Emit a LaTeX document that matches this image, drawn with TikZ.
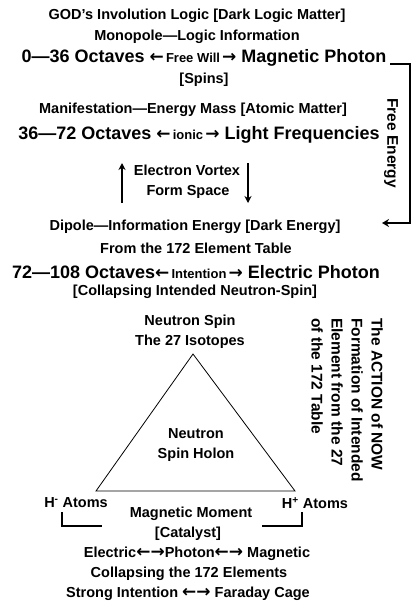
\documentclass[tikz,border=0pt]{standalone}
\usepackage{fontspec}
\setmainfont{Liberation Sans}
\newfontfamily\arrowfont{DejaVu Sans}
\usetikzlibrary{arrows.meta}
\newcommand{\lft}{{\arrowfont\bfseries\fontsize{17}{17}\selectfont ←}}
\newcommand{\rgt}{{\arrowfont\bfseries\fontsize{17}{17}\selectfont →}}

\begin{document}
\begin{tikzpicture}[x=1pt,y=-1pt,
    every node/.style={inner sep=0pt},
    big/.style={font=\bfseries\fontsize{18}{21}\selectfont},
    mid/.style={font=\bfseries\fontsize{14.5}{20}\selectfont},
    flow/.style={line width=1.8pt, -{Stealth[length=7pt,width=7pt]}},
    bracket/.style={line width=1.8pt}]
    \useasboundingbox (0,0) rectangle (415,611);
    % upper levels
    \node[mid] (god) at (197,16) {GOD’s Involution Logic [Dark Logic Matter]};
    \node[mid] (mono) at (197,37) {Monopole—Logic Information};
    \node[big] (oct1) at (204,58) {0—36 Octaves {\fontsize{13}{14}\selectfont \lft\,Free Will\,\rgt} Magnetic Photon};
    \node[mid] (spins) at (204,80) {[Spins]};
    \node[mid] (manif) at (193,110) {Manifestation—Energy Mass [Atomic Matter]};
    \node[big] (oct2) at (199,135) {36—72 Octaves {\fontsize{13}{14}\selectfont \lft\,ionic\,\rgt} Light Frequencies};
    \node[mid] (vortex) at (187,170) {Electron Vortex};
    \node[mid] (form) at (188,192) {Form Space};
    \coordinate (upS) at (122,203);
    \coordinate (upE) at (122,163);
    \coordinate (downS) at (248,163);
    \coordinate (downE) at (248,203);
    \draw[flow] (upS) -- (upE);
    \draw[flow] (downS) -- (downE);
    \node[mid] (dipole) at (195,227) {Dipole—Information Energy [Dark Energy]};
    \node[mid] (table) at (196,248) {From the 172 Element Table};
    \node[big] (oct3) at (196,272) {72—108 Octaves{\fontsize{13}{14}\selectfont \lft\,Intention\,\rgt} Electric Photon};
    \node[mid] (collapse) at (195,292) {[Collapsing Intended Neutron-Spin]};
    % free energy loop
    \coordinate (feA) at (390,64);
    \coordinate (feB) at (410,64);
    \coordinate (feC) at (410,223);
    \coordinate (feD) at (382,223);
    \draw[line width=1.6pt, -{Stealth[length=7pt,width=8pt]}] (feA) -- (feB) -- (feC) -- (feD);
    \node[mid, font=\bfseries\fontsize{15.5}{20}\selectfont, rotate=-90] (free) at (391,143) {Free Energy};
    % triangle
    \node[mid, align=center] (nspin) at (190,332) {Neutron Spin\\The 27 Isotopes};
    \coordinate (apex) at (193,354);
    \coordinate (hl) at (96,491);
    \coordinate (hr) at (295,491);
    \draw[line width=0.8pt] (apex) -- (hl) -- (hr) -- cycle;
    \node[mid, align=center] (holon) at (196,445) {Neutron\\Spin Holon};
    \node[mid, font=\bfseries\fontsize{15.5}{20}\selectfont, rotate=-90, anchor=north west, align=left] (action) at (383,318)
        {The ACTION of NOW\\Formation of Intended\\Element from the 27\\of the 172 Table};
    \node[mid] (hminus) at (76,503) {H\textsuperscript{-} Atoms};
    \node[mid] (hplus) at (315,503) {H\textsuperscript{+} Atoms};
    \draw[bracket] (62,512) |- (102,526);
    \draw[bracket] (262,526) -| (302,512);
    % bottom text
    \node[mid] (moment) at (191,514) {Magnetic Moment};
    \node[mid] (catalyst) at (188,534) {[Catalyst]};
    \node[mid] (epm) at (197,554) {Electric{\fontsize{13}{14}\selectfont \lft\rgt}Photon{\fontsize{13}{14}\selectfont \lft\rgt} Magnetic};
    \node[mid] (collel) at (189,574) {Collapsing the 172 Elements};
    \node[mid] (strong) at (188,594) {Strong Intention {\fontsize{13}{14}\selectfont \lft\rgt} Faraday Cage};
\end{tikzpicture}
\end{document}
